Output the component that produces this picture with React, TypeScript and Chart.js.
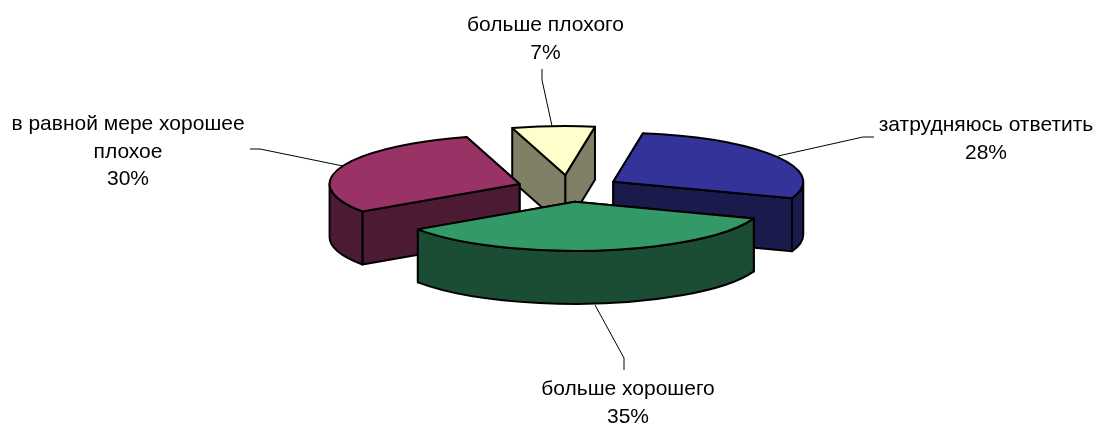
import React, { useEffect, useRef } from "react";
import { Chart, registerables } from "chart.js";

Chart.register(...registerables);

const categories = ["затрудняюсь ответить", "больше хорошего", "в равной мере хорошее\nплохое", "больше плохого"];
const values = [28, 35, 30, 7];
const topColors = ["#333399", "#339966", "#993366", "#FFFFCC"];
const sideColors = ["#1A1A4D", "#1A4D33", "#4D1A33", "#808066"];

const TILT = 0.258;
const DEPTH = 53;
const FONT = '21px "Liberation Sans", Arial, sans-serif';
const LINE_H = 27.5;
const labelAnchors = [
  { x: 986, y: 131 },
  { x: 628, y: 395 },
  { x: 128, y: 130 },
  { x: 545.5, y: 31 },
];
const leaders = [
  [[874, 137], [863, 137], [778, 156]],
  [[624, 370], [624, 358], [595, 305]],
  [[250, 149], [260, 149], [343, 166]],
  [[542, 69], [542, 80], [552, 126]],
];

const pie3d = {
  id: "pie3d",
  beforeDatasetDraw(chart: any) {
    const ctx = chart.ctx;
    const arcs = chart.getDatasetMeta(0).data.map((arc: any, i: number) => {
      const a0 = arc.startAngle;
      const a1 = arc.endAngle;
      const mid = (a0 + a1) / 2;
      const off = arc.options.offset;
      return {
        i, a0, a1, mid,
        r: arc.outerRadius,
        x: arc.x + off * Math.cos(mid),
        y: arc.y + TILT * off * Math.sin(mid),
      };
    });
    arcs.sort((p: any, q: any) => Math.sin(p.mid) - Math.sin(q.mid));

    ctx.save();

    // leaders
    ctx.lineWidth = 1;
    ctx.strokeStyle = "#000";
    for (const pts of leaders) {
      ctx.beginPath();
      pts.forEach((p, j) => (j ? ctx.lineTo(p[0], p[1]) : ctx.moveTo(p[0], p[1])));
      ctx.stroke();
    }

    ctx.lineJoin = "round";
    ctx.lineWidth = 2;
    ctx.strokeStyle = "#000";

    for (const s of arcs) {
      const ry = s.r * TILT;
      // radial walls, back one first
      const walls = [s.a0, s.a1].sort((p, q) => Math.sin(p) - Math.sin(q));
      ctx.fillStyle = sideColors[s.i];
      for (const a of walls) {
        const ex = s.x + s.r * Math.cos(a);
        const ey = s.y + ry * Math.sin(a);
        ctx.beginPath();
        ctx.moveTo(s.x, s.y);
        ctx.lineTo(ex, ey);
        ctx.lineTo(ex, ey + DEPTH);
        ctx.lineTo(s.x, s.y + DEPTH);
        ctx.closePath();
        ctx.fill();
        ctx.stroke();
      }
      // front part of the rim
      const TAU = Math.PI * 2;
      for (let k = -1; k <= 1; k++) {
        const f0 = Math.max(s.a0, k * TAU);
        const f1 = Math.min(s.a1, k * TAU + Math.PI);
        if (f1 > f0) {
          ctx.beginPath();
          ctx.ellipse(s.x, s.y, s.r, ry, 0, f0, f1);
          ctx.ellipse(s.x, s.y + DEPTH, s.r, ry, 0, f1, f0, true);
          ctx.closePath();
          ctx.fill();
          ctx.stroke();
        }
      }
      // top face
      ctx.fillStyle = topColors[s.i];
      ctx.beginPath();
      ctx.moveTo(s.x, s.y);
      ctx.ellipse(s.x, s.y, s.r, ry, 0, s.a0, s.a1);
      ctx.closePath();
      ctx.fill();
      ctx.stroke();
    }

    // labels
    ctx.fillStyle = "#000";
    ctx.font = FONT;
    ctx.textAlign = "center";
    ctx.textBaseline = "alphabetic";
    categories.forEach((c, i) => {
      const lines = [...c.split("\n"), values[i] + "%"];
      lines.forEach((t, j) => ctx.fillText(t, labelAnchors[i].x, labelAnchors[i].y + j * LINE_H));
    });
    ctx.restore();
    return false;
  },
};

export default function App() {
  const ref = useRef<HTMLCanvasElement>(null);
  useEffect(() => {
    const chart = new Chart(ref.current!, {
      type: "pie",
      data: {
        labels: categories,
        datasets: [{ data: values, backgroundColor: topColors, offset: 52, borderWidth: 0 }],
      },
      options: {
        animation: false,
        responsive: false,
        rotation: 9,
        radius: 190,
        layout: { padding: { left: 40, bottom: 46 } },
        plugins: { legend: { display: false }, tooltip: { enabled: false } },
      },
      plugins: [pie3d],
    } as any);
    return () => chart.destroy();
  }, []);
  return (
    <canvas
      ref={ref}
      width={1097}
      height={423}
      style={{ position: "absolute", left: 0, top: 0, width: 1097, height: 423, display: "block", background: "#fff" }}
    />
  );
}
